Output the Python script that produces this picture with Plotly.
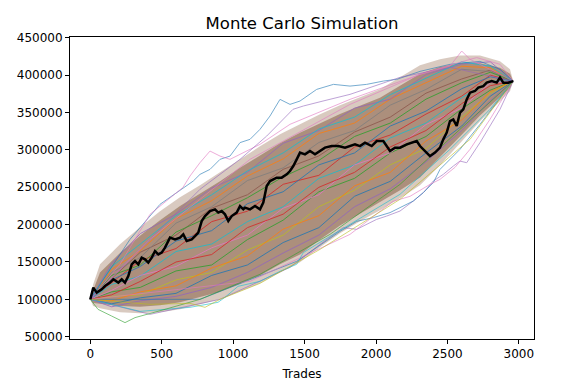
import plotly.graph_objects as go

# ---- data ----
band_t = [0, 20, 68, 208, 348, 488, 628, 768, 908, 1048, 1188, 1328, 1468, 1608,
          1748, 1888, 2028, 2168, 2308, 2448, 2588, 2728, 2868, 2938, 2960]
# outer extent of the simulated paths
band_upper = [100000, 120000, 146900, 173600, 196400, 217800, 236500, 252600, 270000,
              287400, 304800, 320900, 334300, 347700, 359700, 370400, 381100, 397200,
              413300, 421300, 426600, 426600, 418600, 407900, 392200]
band_lower = [100000, 91000, 88000, 82600, 81300, 82600, 86600, 93300, 100000, 110700,
              121400, 136100, 149500, 169600, 188400, 204400, 219100, 235200, 252600,
              279400, 308800, 338300, 365100, 378500, 392200]
# dense core of the simulated paths
core_upper = [100000, 112000, 136000, 162000, 185000, 206000, 225000, 241000, 258000,
              276000, 293000, 309000, 323000, 336000, 348000, 359000, 370000, 386000,
              402000, 411000, 416000, 416000, 410000, 402000, 392200]
core_lower = [100000, 95000, 94000, 91000, 90000, 92000, 96000, 103000, 110000, 121000,
              132000, 147000, 160000, 180000, 199000, 215000, 230000, 246000, 263000,
              290000, 318000, 346000, 371000, 383000, 392200]

# estimated paths inside the mass
inner_t = [0, 150, 350, 600, 850, 1100, 1350, 1600, 1850, 2100, 2350, 2600, 2800, 2960]
inner_paths = [
    ("#ff7f0e", [100000, 140000, 165000, 208000, 232000, 265000, 288000, 322000, 336000, 368000, 390000, 412000, 410000, 392200]),
    ("#2ca02c", [100000, 110000, 116000, 138000, 146000, 180000, 206000, 244000, 262000, 296000, 318000, 355000, 380000, 392200]),
    ("#d62728", [100000, 122000, 152000, 168000, 204000, 218000, 254000, 266000, 304000, 320000, 348000, 372000, 400000, 392200]),
    ("#1f77b4", [100000, 94000, 102000, 108000, 132000, 146000, 176000, 196000, 238000, 258000, 296000, 332000, 372000, 392200]),
    ("#9467bd", [100000, 148000, 188000, 214000, 249000, 270000, 309000, 326000, 356000, 368000, 401000, 415000, 418000, 392200]),
    ("#17becf", [100000, 120000, 131000, 164000, 174000, 204000, 224000, 262000, 280000, 316000, 336000, 370000, 392000, 392200]),
    ("#8c564b", [100000, 128000, 163000, 186000, 222000, 240000, 274000, 292000, 324000, 344000, 376000, 395000, 407000, 392200]),
    ("#bcbd22", [100000, 104000, 106000, 126000, 136000, 166000, 186000, 224000, 246000, 280000, 302000, 344000, 376000, 392200]),
    ("#e377c2", [100000, 112000, 132000, 144000, 169000, 186000, 222000, 240000, 280000, 296000, 334000, 356000, 390000, 392200]),
    ("#7f7f7f", [100000, 136000, 156000, 202000, 224000, 259000, 276000, 310000, 326000, 360000, 381000, 408000, 405000, 392200]),
    ("#ff7f0e", [100000, 98000, 110000, 118000, 142000, 158000, 194000, 212000, 252000, 270000, 312000, 340000, 378000, 392200]),
    ("#d62728", [100000, 106000, 124000, 150000, 160000, 196000, 214000, 250000, 270000, 304000, 326000, 362000, 386000, 392200]),
    ("#2ca02c", [100000, 132000, 146000, 190000, 212000, 236000, 264000, 286000, 318000, 336000, 368000, 390000, 404000, 392200]),
    ("#1f77b4", [100000, 126000, 144000, 178000, 192000, 228000, 244000, 280000, 296000, 332000, 352000, 382000, 398000, 392200]),
    ("#9467bd", [100000, 90000, 98000, 104000, 116000, 136000, 162000, 186000, 224000, 248000, 284000, 326000, 366000, 392200]),
    ("#17becf", [100000, 144000, 174000, 212000, 240000, 272000, 296000, 328000, 344000, 374000, 396000, 418000, 412000, 392200]),
]

black_t = [0, 21, 45, 80, 103, 138, 161, 196, 220, 243, 266, 290, 313, 336, 360, 383, 406,
           430, 453, 476, 500, 523, 558, 593, 628, 651, 675, 710, 733, 756, 780, 803, 838,
           873, 896, 920, 943, 966, 990, 1025, 1048, 1071, 1083, 1118, 1153, 1188, 1211,
           1235, 1258, 1281, 1305, 1340, 1375, 1398, 1421, 1445, 1468, 1503, 1538, 1573,
           1608, 1643, 1690, 1736, 1783, 1818, 1853, 1888, 1923, 1970, 2005, 2051, 2075,
           2098, 2133, 2168, 2215, 2250, 2285, 2308, 2343, 2378, 2413, 2448, 2471, 2495,
           2518, 2541, 2565, 2588, 2611, 2635, 2658, 2693, 2716, 2751, 2775, 2810, 2845,
           2868, 2891, 2926, 2960]
black_v = [100000, 115700, 109000, 113400, 117800, 122400, 126800, 122400, 126800, 122400,
           131200, 146900, 151300, 146900, 155800, 153500, 149100, 155800, 164700, 160200,
           162500, 169200, 182600, 180300, 182600, 187000, 178000, 180300, 184700, 189300,
           204800, 211500, 218200, 220500, 216100, 218200, 213800, 204800, 211500, 216100,
           224900, 220500, 222800, 220500, 224900, 220500, 229500, 251700, 258400, 260600,
           262900, 262900, 267300, 271800, 278500, 287400, 296400, 294100, 298500, 294100,
           298500, 303100, 305200, 305200, 303100, 305200, 307500, 305200, 309800, 305200,
           311900, 311900, 305200, 298500, 303100, 303100, 307500, 309800, 311900, 305200,
           298500, 291800, 296400, 303100, 314200, 323200, 338700, 341000, 332000, 349900,
           354400, 367700, 376700, 378900, 383400, 385500, 390100, 392200, 390100, 396800,
           390100, 390100, 392200]

# visible individual simulation paths (mostly at the edges of the mass)
paths = {
    "blue_top": ([0, 278, 488, 675, 721, 768, 838, 908, 978, 1048, 1118, 1188, 1258, 1328,
                  1398, 1468, 1585, 1702, 1818, 1935, 2051, 2145, 2308, 2518, 2728, 2868, 2960],
                 [100000, 180300, 227200, 251700, 258400, 267300, 274000, 287400, 291800,
                  309800, 314200, 327600, 345400, 367700, 361000, 365500, 381100, 387800,
                  385500, 387800, 392200, 394500, 405200, 414600, 418600, 407900, 392200]),
    "pink_top": ([0, 208, 418, 649, 698, 768, 838, 908, 978, 1048, 1188, 1398, 1818, 2308,
                  2658, 2960],
                 [100000, 146900, 213800, 249900, 265100, 283000, 298500, 291800, 287400,
                  294100, 307500, 334300, 367700, 401200, 421300, 392200]),
    "purple_top": ([0, 418, 768, 1048, 1235, 1419, 1491, 1629, 1818, 2168, 2518, 2960],
                   [100000, 180300, 247300, 287400, 318600, 354400, 358800, 365500, 374400,
                    397200, 410600, 392200]),
    "purple_low": ([0, 418, 908, 1398, 1608, 1771, 1865, 1935, 2005, 2075, 2168, 2261, 2331,
                    2401, 2471, 2541, 2588, 2635, 2681, 2728, 2868, 2960],
                   [100000, 79900, 100000, 142800, 173600, 196000, 193700, 200400, 207100,
                    211500, 218200, 231600, 242800, 258400, 267300, 278400, 285100, 282900,
                    296400, 309800, 354400, 392200]),
    "blue_low": ([0, 768, 1445, 1748, 1865, 1982, 2098, 2168, 2261, 2331, 2401, 2448, 2588,
                  2728, 2960],
                 [100000, 100000, 150900, 191000, 204400, 209400, 216100, 222800, 231600,
                  242800, 256200, 274000, 300800, 334300, 392200]),
    "pink_low": ([0, 1118, 1818, 2119, 2238, 2378, 2448, 2553, 2658, 2798, 2960],
                 [100000, 124100, 187000, 231200, 237900, 253900, 260600, 276700, 300800,
                  341000, 392200]),
    "cyan_low": ([0, 348, 698, 894, 943, 1034, 1188, 1328, 1445, 1491, 1585, 1818, 2168,
                  2518, 2798, 2960],
                 [100000, 83900, 89300, 96000, 102700, 117400, 124100, 137500, 146900,
                  162500, 173600, 200400, 240600, 300800, 354400, 392200]),
    "green_low": ([0, 54, 150, 243, 313, 430, 523, 768, 1188, 1678, 2168, 2588, 2960],
                  [100000, 86600, 77600, 68800, 75500, 82200, 86600, 100000, 133500,
                   187000, 253900, 327600, 392200]),
    "olive_low": ([0, 418, 698, 803, 908, 1188, 1608, 2168, 2658, 2960],
                  [100000, 93300, 94600, 89300, 100000, 121400, 166900, 233900, 314200,
                   392200]),
    "pink_peak": ([0, 418, 1118, 1818, 2308, 2518, 2600, 2658, 2705, 2868, 2960],
                  [100000, 180300, 287400, 361000, 401200, 412300, 432400, 421300, 423600,
                   414600, 392200]),
}
path_colors = {
    "blue_top": "#1f77b4", "pink_top": "#e377c2", "purple_top": "#9467bd",
    "purple_low": "#9467bd", "blue_low": "#1f77b4", "pink_low": "#e377c2",
    "cyan_low": "#17becf", "green_low": "#2ca02c", "olive_low": "#bcbd22",
    "pink_peak": "#e377c2",
}

x_ticks = [0, 500, 1000, 1500, 2000, 2500, 3000]
y_ticks = [50000, 100000, 150000, 200000, 250000, 300000, 350000, 400000, 450000]

fig = go.Figure()

# sparse outer halo of simulated paths
fig.add_trace(go.Scatter(
    x=band_t + band_t[::-1], y=band_upper + band_lower[::-1],
    fill="toself", mode="lines", line=dict(width=0),
    fillcolor="rgba(180,150,130,0.5)", hoverinfo="skip", showlegend=False))
# dense core of simulated paths
fig.add_trace(go.Scatter(
    x=band_t + band_t[::-1], y=core_upper + core_lower[::-1],
    fill="toself", mode="lines", line=dict(width=0),
    fillcolor="rgba(163,133,112,0.85)", hoverinfo="skip", showlegend=False))

for color, vv in inner_paths:
    fig.add_trace(go.Scatter(x=inner_t, y=vv, mode="lines",
                             line=dict(color=color, width=1),
                             opacity=0.8, showlegend=False))

for name, (tt, vv) in paths.items():
    fig.add_trace(go.Scatter(x=tt, y=vv, mode="lines",
                             line=dict(color=path_colors[name], width=1),
                             opacity=0.6, showlegend=False))

fig.add_trace(go.Scatter(x=black_t, y=black_v, mode="lines",
                         line=dict(color="black", width=2.5), showlegend=False))

axis_common = dict(showline=True, linecolor="black", linewidth=1, mirror=True,
                   ticks="outside", ticklen=4, tickcolor="black", showgrid=False,
                   zeroline=False, automargin=False,
                   tickfont=dict(family="DejaVu Sans", size=12, color="black"))

fig.update_layout(
    width=563, height=389,
    margin=dict(l=70, r=29, t=37, b=50),
    paper_bgcolor="white", plot_bgcolor="white",
    title=dict(text="Monte Carlo Simulation", x=0.5365, xanchor="center",
               y=0.94, yanchor="middle",
               font=dict(family="DejaVu Sans", size=16.5, color="black")),
    xaxis=dict(range=[-142, 3106], tickvals=x_ticks, ticktext=[str(v) for v in x_ticks],
               title=dict(text="Trades", font=dict(family="DejaVu Sans", size=12, color="black"),
                          standoff=9),
               **axis_common),
    yaxis=dict(range=[46900, 451200], tickvals=y_ticks, ticktext=[str(v) for v in y_ticks],
               **axis_common),
)

fig.write_html("out.html", config={"displayModeBar": False},
               post_script="document.body.style.margin='0';")
